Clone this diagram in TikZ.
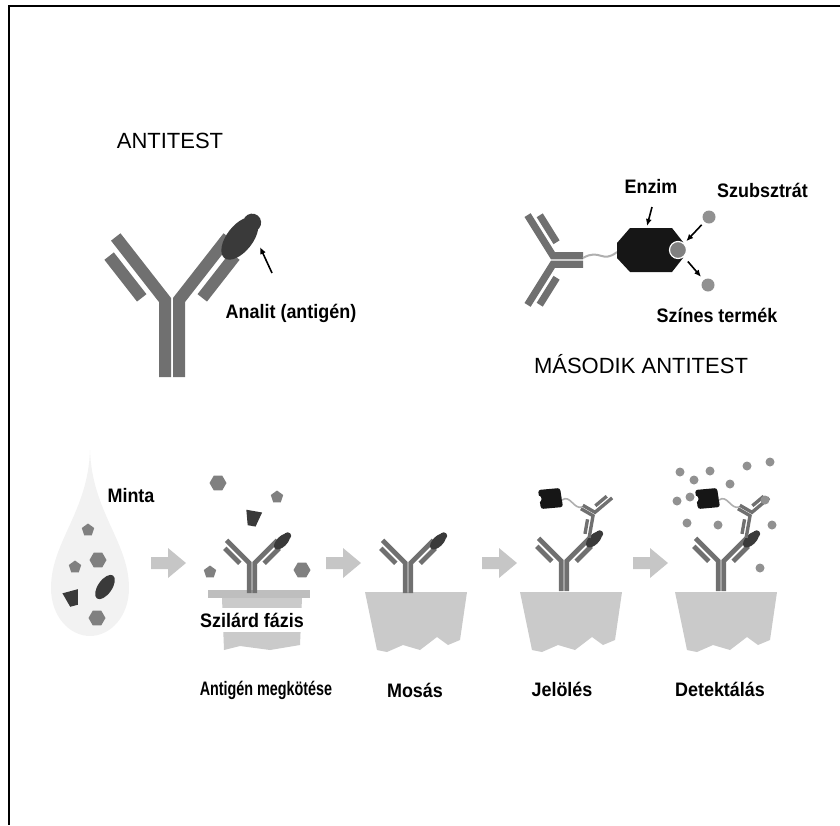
\documentclass[tikz,border=0pt]{standalone}
\usepackage{fontspec}
\setmainfont{Liberation Sans}
\newfontfamily\narrowsans[FakeStretch=0.92]{Liberation Sans}
\usetikzlibrary{arrows.meta,shapes.geometric}

\definecolor{abgray}{RGB}{112,112,112}
\definecolor{agcol}{RGB}{58,58,58}
\definecolor{enzcol}{RGB}{22,22,22}
\definecolor{molgray}{RGB}{128,128,128}
\definecolor{dotgray}{RGB}{145,145,145}
\definecolor{slabgray}{RGB}{202,202,202}
\definecolor{bargray}{RGB}{190,190,190}
\definecolor{arrowgray}{RGB}{198,198,198}
\definecolor{dropcol}{RGB}{242,242,242}
\definecolor{linkercol}{RGB}{175,175,175}

\tikzset{
  chain/.style={abgray, line cap=butt, line join=miter},
  heading/.style={font=\fontsize{22}{26}\selectfont, inner sep=1pt},
  lbl/.style={font=\narrowsans\bfseries\fontsize{19.5}{22}\selectfont, inner sep=1pt},
  pointer/.style={-{Latex[length=7pt,width=6pt]}, line width=1.6pt},
  penta/.style={regular polygon, regular polygon sides=5, minimum size=13pt, inner sep=0pt, fill=molgray},
  hexa/.style={regular polygon, regular polygon sides=6, minimum size=17pt, inner sep=0pt, fill=molgray},
  dot/.style={circle, fill=dotgray, minimum size=9pt, inner sep=0pt},
}

% antibody: [extra] {hinge} {scale} {rotation} {stem length} {arm spread}
\newcommand{\antibody}[6][]{%
  \begin{scope}[shift={#2}, rotate=#4, scale=#3]
    \def\sp{#6}
    \draw[chain, line width=#3*12pt] (-7,#5) -- (-7,0) -- ++(-90-#6:80);
    \draw[chain, line width=#3*12pt] (7,#5) -- (7,0) -- ++(-90+#6:80);
    \draw[chain, line width=#3*12pt] (-7,0) ++(-90-#6:16) ++(180-#6:17) -- ++(-90-#6:53);
    \draw[chain, line width=#3*12pt] (7,0) ++(-90+#6:16) ++(#6:17) -- ++(-90+#6:53);
    #1
  \end{scope}}
% bound antigen on the right arm
\newcommand{\antigenknob}{%
  \begin{scope}[shift={(7,0)}, rotate=90-\sp]
    \fill[agcol] (86,10) ellipse [x radius=25, y radius=13] (106,10) circle [radius=9];
  \end{scope}}
% grey block arrow between the steps
\newcommand{\steparrow}[1]{%
  \fill[arrowgray] (#1-17,557) -- (#1,557) -- (#1,548) -- (#1+18,563) -- (#1,578) -- (#1,569) -- (#1-17,569) -- cycle;}
% solid phase block
\newcommand{\slab}[1]{%
  \fill[slabgray, shift={(#1,0)}] (0,592) -- (102,592) -- (95,640) -- (83,645) -- (72,637) -- (55,650) -- (38,645) -- (22,652) -- (12,650) -- cycle;}
% enzyme on the labelled antibody
\newcommand{\enzymetag}[1]{%
  \begin{scope}[shift={#1}]
    \fill[enzcol, rounded corners=2.5pt] (-12,-8) -- (10,-10) -- (13,9) -- (-9,11) -- cycle;
    \fill[white] (-12,1) circle [radius=3.5];
    \draw[linkercol, line width=1.6pt] (12,2) .. controls (20,-4) and (24,12) .. (32,9);
  \end{scope}}
% dark fragment
\newcommand{\fragment}[2]{%
  \fill[agcol, shift={#1}, rotate=#2] (-8,-7) -- (8,-7) -- (4,8) -- (-4,8) -- cycle;}

\begin{document}
\begin{tikzpicture}[x=1pt, y=-1pt]
  \useasboundingbox (0,0) rectangle (840,825);
  \draw[line width=2pt] (840,6) -- (9,6) -- (9,825);

  % --- antibody with antigen ---
  \node[heading] (antitest) at (170,141) {ANTITEST};
  \antibody[\antigenknob]{(172,300)}{1}{0}{77}{38}
  \node[lbl] (analit) at (291,313) {Analit (antigén)};
  \coordinate (agtail) at (272,273);
  \coordinate (agtip) at (260,247);
  \draw[pointer] (agtail) -- (agtip);

  % --- second antibody with enzyme ---
  \antibody{(553,260)}{0.6}{90}{50}{58}
  \draw[linkercol, line width=2pt] (583,258) .. controls (600,248) and (602,264) .. (617,252);
  \fill[enzcol] (617,243) -- (630,228) -- (672,228) -- (683,242) -- (683,258) -- (672,272) -- (630,272) -- (617,258) -- cycle;
  \node[circle, fill=molgray, draw=white, line width=1.2pt, minimum size=17pt, inner sep=0pt] (site) at (678,250) {};
  \node[circle, fill=dotgray, minimum size=13pt, inner sep=0pt] (subst) at (709,217) {};
  \node[circle, fill=dotgray, minimum size=13pt, inner sep=0pt] (prod) at (708,285) {};
  \node[lbl] (enzim) at (651,186) {Enzim};
  \node[lbl, anchor=west] (szubsztrat) at (716,190) {Szubsztrát};
  \node[lbl] (szines) at (717,315) {Színes termék};
  \node[heading] (masodik) at (641,364) {MÁSODIK ANTITEST};
  \coordinate (enztail) at (652,207);
  \coordinate (enzhead) at (647,226);
  \draw[pointer] (enztail) -- (enzhead);
  \draw[pointer, shorten <=4pt, shorten >=3pt] (subst) -- (site);
  \draw[pointer, shorten <=6pt, shorten >=4pt] (site) -- (prod);

  % --- sample drop ---
  \fill[dropcol] (90,450) .. controls (92,512) and (129,542) .. (129,588)
    .. controls (129,617) and (110,636) .. (90,636)
    .. controls (70,636) and (51,617) .. (51,588)
    .. controls (51,542) and (88,512) .. (90,450) -- cycle;
  \node[lbl] (minta) at (131,496) {Minta};
  \node[penta] (m1) at (88,530) {};
  \node[hexa] (m2) at (98,560) {};
  \node[penta] (m3) at (75,567) {};
  \node[hexa] (m4) at (97,618) {};
  \fragment{(72,598)}{15}
  \fill[agcol, shift={(105,587)}, rotate=55] (0,0) ellipse [x radius=14, y radius=7];

  \steparrow{168}
  \steparrow{343}
  \steparrow{499}
  \steparrow{650}

  % --- antigen binding ---
  \fill[bargray] (208,590) rectangle (310,598);
  \fill[slabgray] (222,598) -- (302,598) -- (300,645) -- (270,650) -- (240,646) -- (224,650) -- cycle;
  \antibody[\antigenknob]{(252,563)}{0.4}{0}{75}{45}
  \node[hexa] (p1) at (218,483) {};
  \node[penta] (p2) at (277,497) {};
  \node[penta] (p3) at (210,572) {};
  \node[hexa] (p4) at (302,570) {};
  \fragment{(253,518)}{-10}
  \node[lbl, fill=white, inner ysep=5pt] (szilard) at (252,620) {Szilárd fázis};
  \node[lbl] (kotes) at (266,690) {\scalebox{0.8}[1]{Antigén megkötése}};

  % --- washing ---
  \slab{365}
  \antibody[\antigenknob]{(408,563)}{0.4}{0}{75}{45}
  \node[lbl] (mosas) at (415,690) {Mosás};

  % --- labelling ---
  \slab{520}
  \antibody[\antigenknob]{(564,561)}{0.4}{0}{75}{45}
  \antibody{(594,514)}{0.28}{-120}{50}{70}
  \enzymetag{(550,498)}
  \node[lbl] (jeloles) at (562,689) {Jelölés};

  % --- detection ---
  \slab{675}
  \antibody[\antigenknob]{(721,561)}{0.4}{0}{75}{45}
  \antibody{(751,514)}{0.28}{-120}{50}{70}
  \enzymetag{(707,498)}
  \foreach \p in {(680,472),(710,471),(747,466),(770,462),(694,480),(730,484),(677,501),
                  (690,497),(765,500),(687,523),(718,525),(772,525),(760,568)}
    \node[dot] at \p {};
  \node[lbl] (detekt) at (720,689) {Detektálás};
\end{tikzpicture}
\end{document}
